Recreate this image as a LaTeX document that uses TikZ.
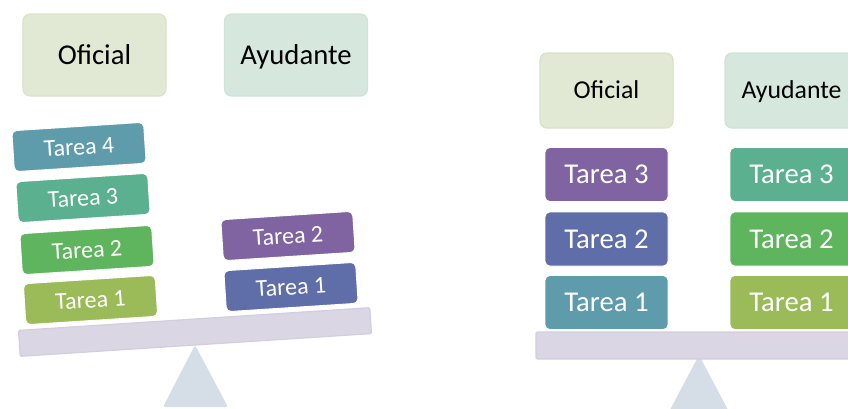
\documentclass[tikz,border=0pt]{standalone}
\usepackage{fontspec}
\setmainfont{Carlito}

\definecolor{oficialfondo}{HTML}{E1E9D4}
\definecolor{oficialborde}{HTML}{D9E2C9}
\definecolor{ayudfondo}{HTML}{D6E8DE}
\definecolor{ayudborde}{HTML}{CEE3D6}
\definecolor{azulverde}{HTML}{5E9CAB}
\definecolor{verdeagua}{HTML}{5BB08F}
\definecolor{verde}{HTML}{5EB55E}
\definecolor{oliva}{HTML}{9BBB59}
\definecolor{morado}{HTML}{8064A2}
\definecolor{azul}{HTML}{5F6EA8}
\definecolor{barra}{HTML}{DAD6E4}
\definecolor{barraborde}{HTML}{D3CEDF}
\definecolor{apoyo}{HTML}{D5DEE6}

\begin{document}
\begin{tikzpicture}[x=0.03cm, y=-0.03cm,
    rolA/.style={rounded corners=6pt, inner sep=0pt, minimum width=4.29cm, minimum height=2.46cm,
        text height=15.8pt, text depth=0pt, font=\fontsize{24.5}{28}\selectfont, line width=1pt},
    rolB/.style={rolA, minimum width=3.99cm, minimum height=2.25cm, text height=14.2pt,
        font=\fontsize{22}{26}\selectfont},
    tareaA/.style={rounded corners=4pt, inner sep=0pt, minimum width=3.96cm, minimum height=1.23cm,
        draw=white, line width=0.8pt, text=white, rotate=3.7,
        text height=13.2pt, text depth=0pt, font=\fontsize{20.5}{24}\selectfont},
    tareaB/.style={rounded corners=4pt, inner sep=0pt, minimum width=3.69cm, minimum height=1.62cm,
        draw=white, line width=0.8pt, text=white,
        text height=15.8pt, text depth=0pt, font=\fontsize{24.5}{28}\selectfont},
    barraA/.style={fill=barra, draw=barraborde, line width=1pt, rounded corners=1pt, inner sep=0pt,
        minimum width=10.56cm, minimum height=0.78cm, rotate=3.7},
    barraB/.style={fill=barra, draw=barraborde, line width=1pt, rounded corners=1pt, inner sep=0pt,
        minimum width=9.78cm, minimum height=0.81cm}]
\useasboundingbox (0,0) rectangle (848,408);
\clip (0,0) rectangle (848,408);

% Balanza inclinada
\fill[apoyo, rounded corners=2pt] (195,345) -- (163,407) -- (228,407) -- cycle;
\node[barraA] (barraA) at (195,332) {};

% Roles
\node[rolA, fill=oficialfondo, draw=oficialborde] (oficialA) at (94.5,55) {Oficial};
\node[rolA, fill=ayudfondo, draw=ayudborde] (ayudanteA) at (296,55) {Ayudante};

% Tareas del oficial
\node[tareaA, fill=oliva] (ofA1) at (90.5,300) {Tarea 1};
\node[tareaA, fill=verde] (ofA2) at (87,250) {Tarea 2};
\node[tareaA, fill=verdeagua] (ofA3) at (83,198) {Tarea 3};
\node[tareaA, fill=azulverde] (ofA4) at (79,147) {Tarea 4};

% Tareas del ayudante
\node[tareaA, fill=azul] (ayA1) at (291,287) {Tarea 1};
\node[tareaA, fill=morado] (ayA2) at (288,236) {Tarea 2};

% Balanza equilibrada
\fill[apoyo, rounded corners=2pt] (699,355) -- (662,425) -- (736,425) -- cycle;
\node[barraB] (barraB) at (699,345.5) {};

% Roles
\node[rolB, fill=oficialfondo, draw=oficialborde] (oficialB) at (606.5,90.5) {Oficial};
\node[rolB, fill=ayudfondo, draw=ayudborde] (ayudanteB) at (791.5,90.5) {Ayudante};

% Tareas repartidas
\node[tareaB, fill=azulverde] (ofB1) at (606.5,302.5) {Tarea 1};
\node[tareaB, fill=azul] (ofB2) at (606.5,239) {Tarea 2};
\node[tareaB, fill=morado] (ofB3) at (606.5,174.5) {Tarea 3};
\node[tareaB, fill=oliva] (ayB1) at (791.5,302.5) {Tarea 1};
\node[tareaB, fill=verde] (ayB2) at (791.5,239) {Tarea 2};
\node[tareaB, fill=verdeagua] (ayB3) at (791.5,174.5) {Tarea 3};
\end{tikzpicture}
\end{document}
